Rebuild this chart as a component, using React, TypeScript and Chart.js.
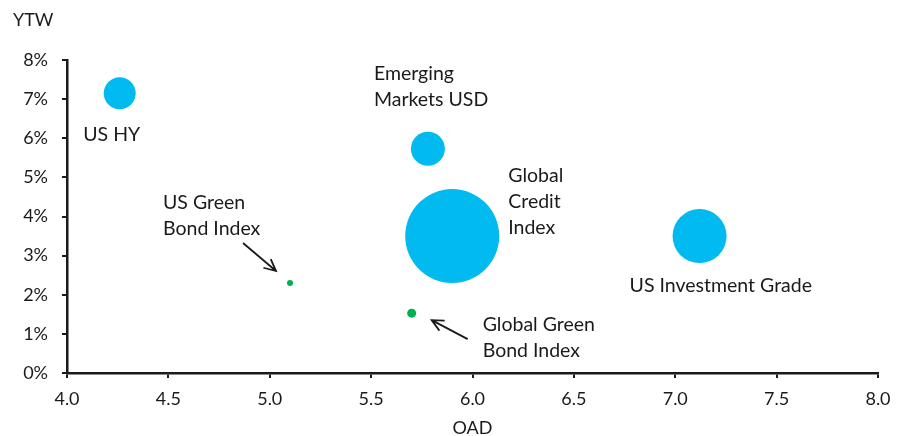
import React, { useEffect, useRef } from "react";
import { Chart, registerables } from "chart.js";

Chart.register(...registerables);

const names = ["US HY", "Emerging Markets USD", "Global Credit Index", "US Investment Grade", "US Green Bond Index", "Global Green Bond Index"];
const oad = [4.26, 5.78, 5.9, 7.12, 5.1, 5.7];
const ytw = [7.15, 5.73, 3.5, 3.5, 2.3, 1.53];
const bubbleRadius = [16, 17, 47, 27, 3, 4.5];
const isGreen = [false, false, false, false, true, true];
const xTicks = [4.0, 4.5, 5.0, 5.5, 6.0, 6.5, 7.0, 7.5, 8.0];
const yTicks = [0, 1, 2, 3, 4, 5, 6, 7, 8];

const CYAN = "#00BAF0";
const GREEN = "#00B050";
const TEXT = "#1a1a1a";
const FONT_FAMILY = "Lato, 'Open Sans', sans-serif";
const TICK_SIZE = 18;
const LABEL_SIZE = 19.5;

// label layout: lines, pixel offset from bubble centre, alignment, optional arrow
const labelLines = [["US HY"], ["Emerging", "Markets USD"], ["Global", "Credit", "Index"], ["US Investment Grade"], ["US Green", "Bond Index"], ["Global Green", "Bond Index"]];
const labelStyle = [
  { dx: -8, dy: 41, align: "center", arrow: null },
  { dx: -54, dy: -75, align: "left", arrow: null },
  { dx: 56, dy: -60, align: "left", arrow: null },
  { dx: -70, dy: 50, align: "left", arrow: null },
  { dx: -127, dy: -80, align: "left", arrow: [-47, -40, -14, -12] },
  { dx: 71, dy: 12, align: "left", arrow: [56, 26, 20, 7] },
];

const labelPlugin = {
  id: "labels",
  afterDraw(chart: any) {
    const ctx = chart.ctx;
    const xs = chart.scales.x;
    const ys = chart.scales.y;
    ctx.save();
    ctx.fillStyle = TEXT;
    ctx.strokeStyle = TEXT;
    ctx.font = `${LABEL_SIZE}px ${FONT_FAMILY}`;
    ctx.textBaseline = "middle";
    names.forEach((_, i) => {
      const cx = xs.getPixelForValue(oad[i]);
      const cy = ys.getPixelForValue(ytw[i]);
      const st: any = labelStyle[i];
      ctx.textAlign = st.align;
      labelLines[i].forEach((ln, j) => {
        ctx.fillText(ln, cx + st.dx, cy + st.dy + j * 26);
      });
      if (st.arrow) {
        const [x1, y1, x2, y2] = st.arrow;
        const sx = cx + x1, sy = cy + y1, ex = cx + x2, ey = cy + y2;
        ctx.lineWidth = 1.8;
        ctx.beginPath();
        ctx.moveTo(sx, sy);
        ctx.lineTo(ex, ey);
        const ang = Math.atan2(ey - sy, ex - sx);
        const hl = 13;
        ctx.moveTo(ex - hl * Math.cos(ang - 0.45), ey - hl * Math.sin(ang - 0.45));
        ctx.lineTo(ex, ey);
        ctx.lineTo(ex - hl * Math.cos(ang + 0.45), ey - hl * Math.sin(ang + 0.45));
        ctx.stroke();
      }
    });
    // axis titles
    ctx.font = `${TICK_SIZE}px ${FONT_FAMILY}`;
    ctx.textAlign = "left";
    ctx.fillText("YTW", 13, 20);
    ctx.textAlign = "center";
    ctx.fillText("OAD", (xs.left + xs.right) / 2, 428);
    ctx.restore();
  },
};

export default function App() {
  const ref = useRef<HTMLCanvasElement>(null);
  useEffect(() => {
    const data = names.map((n, i) => ({ x: oad[i], y: ytw[i], r: bubbleRadius[i] }));
    const chart = new Chart(ref.current!, {
      type: "bubble",
      data: {
        datasets: [
          {
            label: "Indices",
            data,
            backgroundColor: isGreen.map((g) => (g ? GREEN : CYAN)),
            borderWidth: 0,
            hoverRadius: 0,
          } as any,
        ],
      },
      plugins: [labelPlugin],
      options: {
        animation: false,
        responsive: false,
        events: [],
        clip: false as any,
        layout: { autoPadding: false, padding: { top: 60, right: 23, left: 0, bottom: 0 } } as any,
        plugins: { legend: { display: false }, tooltip: { enabled: false } },
        scales: {
          x: {
            type: "linear",
            min: 4,
            max: 8,
            afterBuildTicks: (s: any) => {
              s.ticks = xTicks.map((v) => ({ value: v }));
            },
            afterFit: (s: any) => {
              s.height = 436 - 373;
              s.paddingRight = 0;
              s.paddingLeft = 0;
            },
            ticks: {
              color: TEXT,
              font: { family: FONT_FAMILY, size: TICK_SIZE },
              padding: 10,
              maxRotation: 0,
              callback: (v: any) => Number(v).toFixed(1),
            },
            grid: { display: true, drawOnChartArea: false, drawTicks: true, tickLength: 5, color: TEXT, lineWidth: 2 },
            border: { display: true, color: TEXT, width: 2.5 },
          },
          y: {
            type: "linear",
            min: 0,
            max: 8,
            afterBuildTicks: (s: any) => {
              s.ticks = yTicks.map((v) => ({ value: v }));
            },
            afterFit: (s: any) => {
              s.width = 67;
              s.paddingTop = 0;
              s.paddingBottom = 0;
            },
            ticks: {
              color: TEXT,
              font: { family: FONT_FAMILY, size: TICK_SIZE },
              padding: 14,
              callback: (v: any) => `${v}%`,
            },
            grid: { display: true, drawOnChartArea: false, drawTicks: true, tickLength: 5, color: TEXT, lineWidth: 2 },
            border: { display: true, color: TEXT, width: 2.5 },
          },
        },
      },
    });
    return () => chart.destroy();
  }, []);
  return (
    <div style={{ position: "absolute", left: 0, top: 0, width: 901, height: 436, background: "#fff" }}>
      <canvas ref={ref} width={901} height={436} style={{ width: 901, height: 436 }} />
    </div>
  );
}
